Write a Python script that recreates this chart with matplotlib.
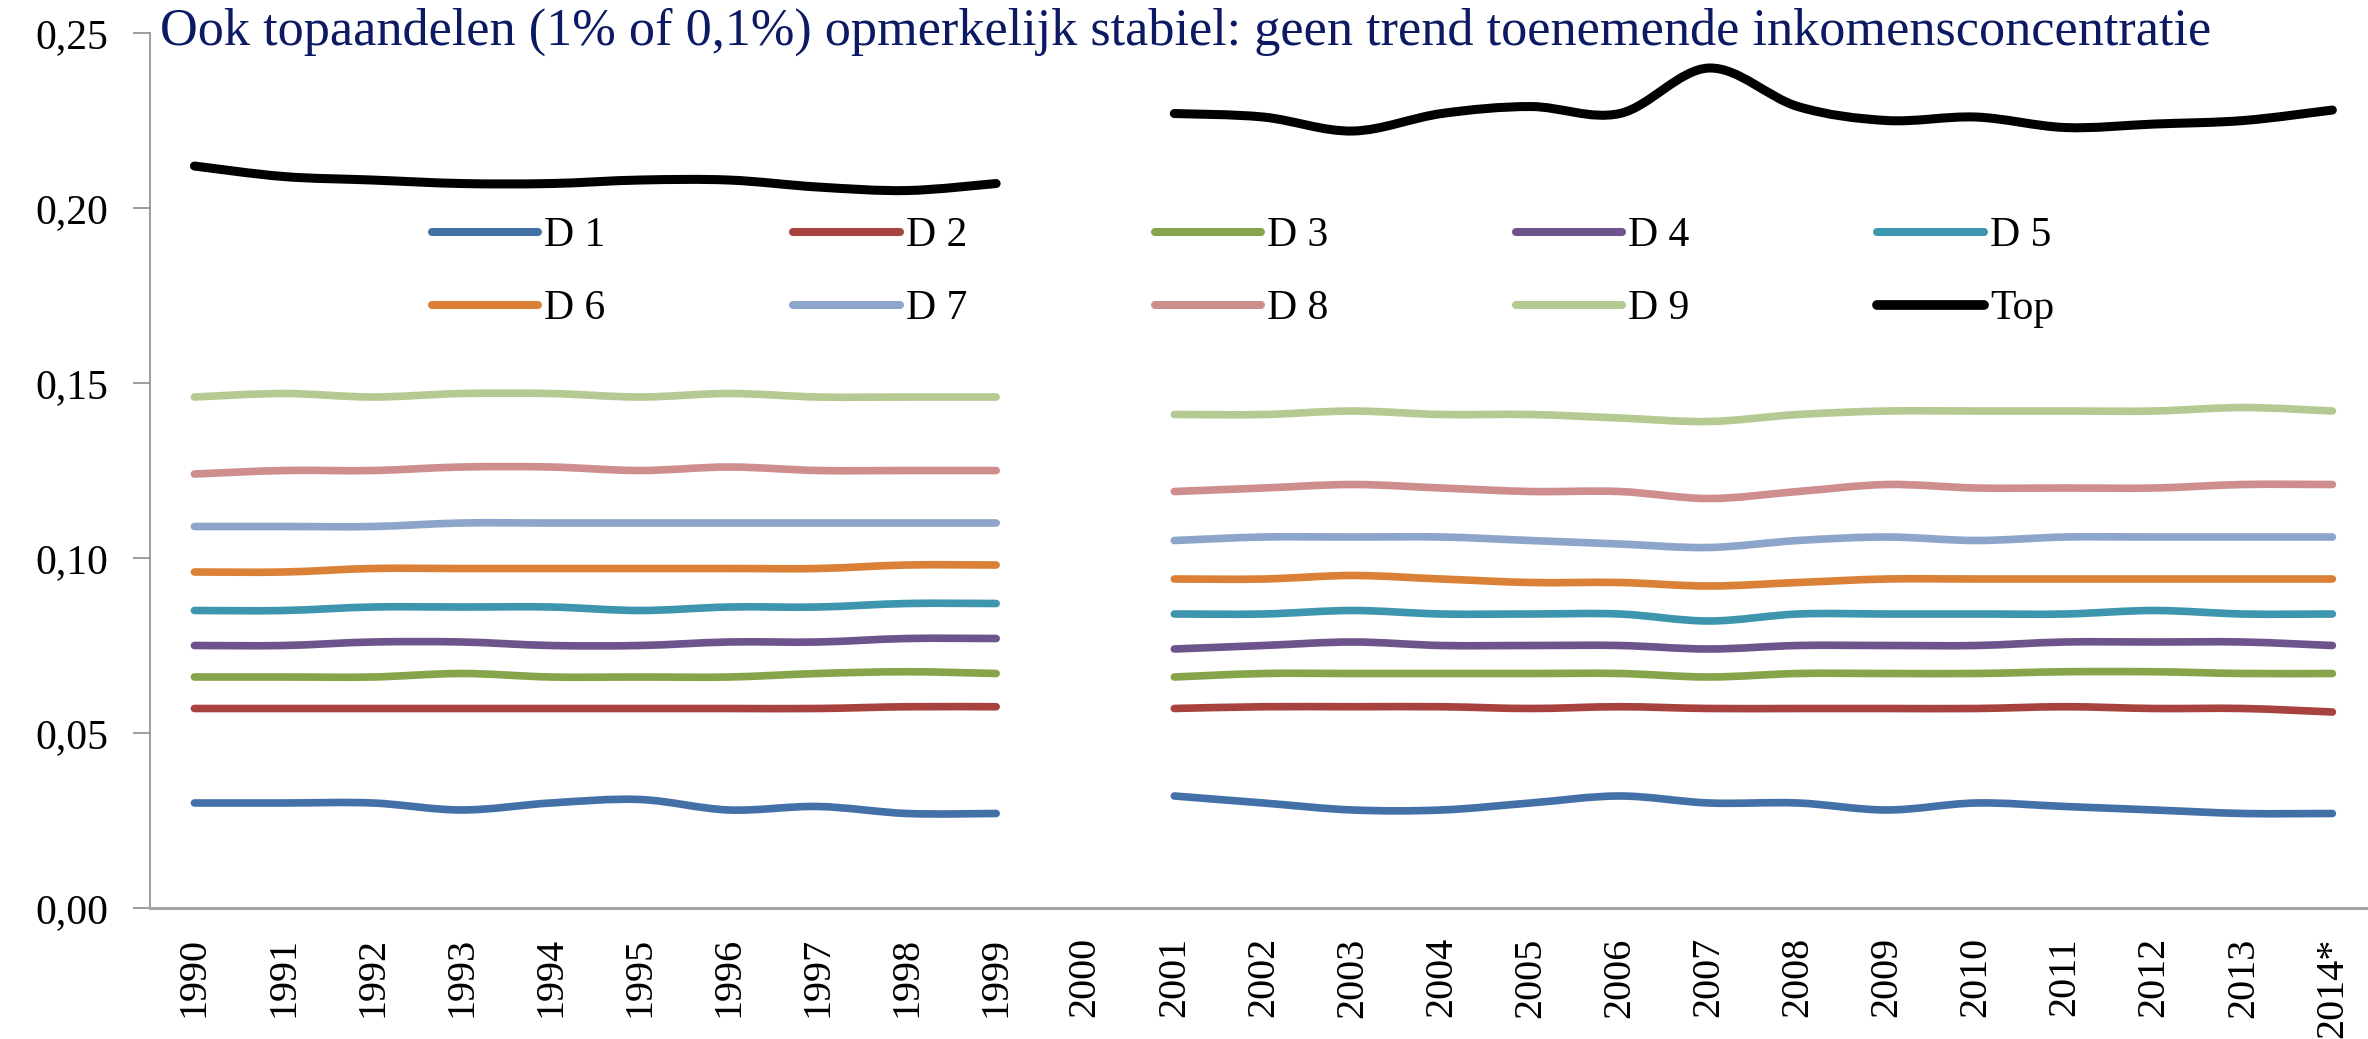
import numpy as np
import matplotlib.pyplot as plt
from matplotlib.path import Path
from matplotlib.patches import PathPatch
from matplotlib.lines import Line2D

# Data (2000 has no observation -> gap in the lines)
years = ['1990', '1991', '1992', '1993', '1994', '1995', '1996', '1997', '1998', '1999',
         '2000', '2001', '2002', '2003', '2004', '2005', '2006', '2007', '2008', '2009',
         '2010', '2011', '2012', '2013', '2014*']
nan = np.nan
d1 = [0.030, 0.030, 0.030, 0.028, 0.030, 0.031, 0.028, 0.029, 0.027, 0.027, nan,
      0.032, 0.030, 0.028, 0.028, 0.030, 0.032, 0.030, 0.030, 0.028, 0.030, 0.029, 0.028, 0.027, 0.027]
d2 = [0.057, 0.057, 0.057, 0.057, 0.057, 0.057, 0.057, 0.057, 0.0575, 0.0575, nan,
      0.057, 0.0575, 0.0575, 0.0575, 0.057, 0.0575, 0.057, 0.057, 0.057, 0.057, 0.0575, 0.057, 0.057, 0.056]
d3 = [0.066, 0.066, 0.066, 0.067, 0.066, 0.066, 0.066, 0.067, 0.0675, 0.067, nan,
      0.066, 0.067, 0.067, 0.067, 0.067, 0.067, 0.066, 0.067, 0.067, 0.067, 0.0675, 0.0675, 0.067, 0.067]
d4 = [0.075, 0.075, 0.076, 0.076, 0.075, 0.075, 0.076, 0.076, 0.077, 0.077, nan,
      0.074, 0.075, 0.076, 0.075, 0.075, 0.075, 0.074, 0.075, 0.075, 0.075, 0.076, 0.076, 0.076, 0.075]
d5 = [0.085, 0.085, 0.086, 0.086, 0.086, 0.085, 0.086, 0.086, 0.087, 0.087, nan,
      0.084, 0.084, 0.085, 0.084, 0.084, 0.084, 0.082, 0.084, 0.084, 0.084, 0.084, 0.085, 0.084, 0.084]
d6 = [0.096, 0.096, 0.097, 0.097, 0.097, 0.097, 0.097, 0.097, 0.098, 0.098, nan,
      0.094, 0.094, 0.095, 0.094, 0.093, 0.093, 0.092, 0.093, 0.094, 0.094, 0.094, 0.094, 0.094, 0.094]
d7 = [0.109, 0.109, 0.109, 0.110, 0.110, 0.110, 0.110, 0.110, 0.110, 0.110, nan,
      0.105, 0.106, 0.106, 0.106, 0.105, 0.104, 0.103, 0.105, 0.106, 0.105, 0.106, 0.106, 0.106, 0.106]
d8 = [0.124, 0.125, 0.125, 0.126, 0.126, 0.125, 0.126, 0.125, 0.125, 0.125, nan,
      0.119, 0.120, 0.121, 0.120, 0.119, 0.119, 0.117, 0.119, 0.121, 0.120, 0.120, 0.120, 0.121, 0.121]
d9 = [0.146, 0.147, 0.146, 0.147, 0.147, 0.146, 0.147, 0.146, 0.146, 0.146, nan,
      0.141, 0.141, 0.142, 0.141, 0.141, 0.140, 0.139, 0.141, 0.142, 0.142, 0.142, 0.142, 0.143, 0.142]
top = [0.212, 0.209, 0.208, 0.207, 0.207, 0.208, 0.208, 0.206, 0.205, 0.207, nan,
       0.227, 0.226, 0.222, 0.227, 0.229, 0.227, 0.240, 0.229, 0.225, 0.226, 0.223, 0.224, 0.225, 0.228]

labels = ['D 1', 'D 2', 'D 3', 'D 4', 'D 5', 'D 6', 'D 7', 'D 8', 'D 9', 'Top']
series = [d1, d2, d3, d4, d5, d6, d7, d8, d9, top]
colors = ['#4470A8', '#A8423F', '#86A44A', '#6E548D', '#3D96AE',
          '#DA8137', '#8EA5CB', '#CE8E8D', '#B5CA92', '#000000']
yticks = [0.00, 0.05, 0.10, 0.15, 0.20, 0.25]
ytick_labels = ['0,00', '0,05', '0,10', '0,15', '0,20', '0,25']
title = 'Ook topaandelen (1% of 0,1%) opmerkelijk stabiel: geen trend toenemende inkomensconcentratie'

serif = 'Liberation Serif'
grey = '#8C8C8C'


def smooth_path(x, y):
    # Excel-style smoothed line: Catmull-Rom segments as cubic Beziers
    pts = np.column_stack([x, y])
    verts = [pts[0]]
    codes = [Path.MOVETO]
    n = len(pts)
    for i in range(n - 1):
        p0 = pts[max(i - 1, 0)]
        p1 = pts[i]
        p2 = pts[i + 1]
        p3 = pts[min(i + 2, n - 1)]
        verts += [p1 + (p2 - p0) / 6, p2 - (p3 - p1) / 6, p2]
        codes += [Path.CURVE4] * 3
    return Path(verts, codes)


fig = plt.figure(figsize=(23.68, 10.39), dpi=100)
ax = fig.add_axes([0.0633, 0.1261, 0.9367, 0.8421])

xs = np.arange(len(years))
for vals, c, lab in zip(series, colors, labels):
    v = np.array(vals, dtype=float)
    lw = 6.5 if lab == 'Top' else 5.5
    ok = ~np.isnan(v)
    # split at the gap
    idx = np.where(ok)[0]
    groups = np.split(idx, np.where(np.diff(idx) > 1)[0] + 1)
    for g in groups:
        p = smooth_path(xs[g], v[g])
        ax.add_patch(PathPatch(p, fill=False, edgecolor=c, lw=lw, capstyle='round', joinstyle='round'))

ax.set_xlim(-0.5, 24.4)
ax.set_ylim(0, 0.25)

ax.set_yticks(yticks)
ax.set_yticklabels(ytick_labels, fontsize=30, fontfamily=serif)
ax.set_xticks(xs)
ax.set_xticklabels(years, rotation=90, fontsize=29, fontfamily=serif)
ax.tick_params(axis='y', length=12, width=1.2, color=grey, pad=18)
ax.tick_params(axis='x', length=0, pad=21)

for s in ['top', 'right']:
    ax.spines[s].set_visible(False)
ax.spines['left'].set_color(grey)
ax.spines['left'].set_linewidth(1.2)
ax.spines['bottom'].set_color('#A6A6A6')
ax.spines['bottom'].set_linewidth(2.2)

# legend, filled row by row (2 rows x 5 columns)
handles = [Line2D([], [], color=c, lw=(7 if l == 'Top' else 5.8), solid_capstyle='round')
           for c, l in zip(colors, labels)]
order = [0, 5, 1, 6, 2, 7, 3, 8, 4, 9]
ax.legend([handles[i] for i in order], [labels[i] for i in order], ncol=5,
          loc='upper left', bbox_to_anchor=(432 / 2368, 1 - 217 / 1039),
          bbox_transform=fig.transFigure, frameon=False,
          prop={'family': serif, 'size': 30}, borderpad=0, borderaxespad=0,
          handlelength=2.55, handletextpad=0.15, columnspacing=4.5, labelspacing=0.82)

fig.text(160 / 2368, 1 - 45 / 1039, title, fontsize=37.6, fontfamily=serif,
         color='#0D1A63', va='baseline', ha='left')

fig.savefig('out.png', dpi=100)
